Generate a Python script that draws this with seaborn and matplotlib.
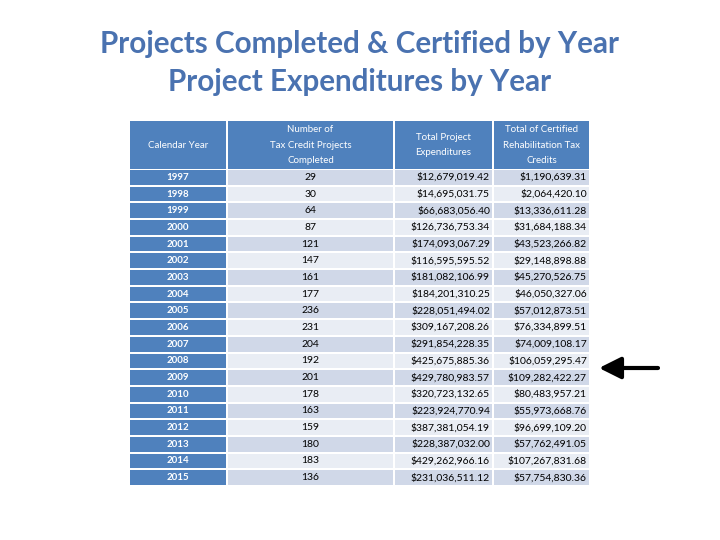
import matplotlib
matplotlib.use("Agg")
import matplotlib.pyplot as plt
from matplotlib.patches import Rectangle
import seaborn as sns

sns.set_theme(style="white")
plt.rcParams['font.family'] = ['Lato', 'DejaVu Sans']

# table data
years = [1997, 1998, 1999, 2000, 2001, 2002, 2003, 2004, 2005, 2006,
         2007, 2008, 2009, 2010, 2011, 2012, 2013, 2014, 2015]
projects = [29, 30, 64, 87, 121, 147, 161, 177, 236, 231,
            204, 192, 201, 178, 163, 159, 180, 183, 136]
expenditures = [12679019.42, 14695031.75, 66683056.40, 126736753.34, 174093067.29,
                116595595.52, 181082106.99, 184201310.25, 228051494.02, 309167208.26,
                291854228.35, 425675885.36, 429780983.57, 320723132.65, 223924770.94,
                387381054.19, 228387032.00, 429262966.16, 231036511.12]
credits = [1190639.31, 2064420.10, 13336611.28, 31684188.34, 43523266.82,
           29148898.88, 45270526.75, 46050327.06, 57012873.51, 76334899.51,
           74009108.17, 106059295.47, 109282422.27, 80483957.21, 55973668.76,
           96699109.20, 57762491.05, 107267831.68, 57754830.36]
headers = ["Calendar Year", "Number of\nTax Credit Projects\nCompleted",
           "Total Project\nExpenditures", "Total of Certified\nRehabilitation Tax\nCredits"]
title_lines = ["Projects Completed & Certified by Year", "Project Expenditures by Year"]

BLUE = "#4F81BD"
DARK = "#D0D8E8"
LIGHT = "#E9EDF4"

fig = plt.figure(figsize=(7.2, 5.4), dpi=100)
ax = fig.add_axes([0, 0, 1, 1])
ax.set_xlim(0, 720)
ax.set_ylim(540, 0)
ax.axis("off")

ax.text(360, 44, title_lines[0], ha="center", va="center", fontsize=21.3,
        fontweight="bold", color="#4A72B0")
ax.text(360, 82, title_lines[1], ha="center", va="center", fontsize=21.3,
        fontweight="bold", color="#4A72B0")

edges = [130, 228, 395, 494, 591]
gap = 2
head_top, head_bot = 121, 169
row_h = (487 - 170) / len(years)

# header
for j, h in enumerate(headers):
    x0, x1 = edges[j], edges[j + 1] - gap
    ax.add_patch(Rectangle((x0, head_top), x1 - x0, head_bot - head_top, color=BLUE, lw=0))
    ax.text((x0 + x1) / 2, (head_top + head_bot) / 2, h, ha="center", va="center",
            fontsize=7, color="white", linespacing=1.9)

# body
for i, yr in enumerate(years):
    top = 170 + i * row_h
    h = row_h - gap
    cy = top + h / 2
    fill = DARK if i % 2 == 0 else LIGHT
    cells = [str(yr), str(projects[i]), f"${expenditures[i]:,.2f}", f"${credits[i]:,.2f}"]
    for j, txt in enumerate(cells):
        x0, x1 = edges[j], edges[j + 1] - gap
        ax.add_patch(Rectangle((x0, top), x1 - x0, h, color=BLUE if j == 0 else fill, lw=0))
        if j == 0:
            ax.text((x0 + x1) / 2, cy, txt, ha="center", va="center", fontsize=7,
                    color="white", fontweight="bold")
        elif j == 1:
            ax.text((x0 + x1) / 2, cy, txt, ha="center", va="center", fontsize=7.5, color="black")
        else:
            ax.text(x1 - 2, cy, txt, ha="right", va="center", fontsize=7.5, color="black")

# arrow pointing at 2008/2009
ax.annotate("", xy=(599, 368), xytext=(658, 368),
            arrowprops=dict(arrowstyle="-|>,head_length=1.1,head_width=0.55",
                            color="black", lw=3, shrinkA=0, shrinkB=0))

fig.savefig("out.png", dpi=100)
